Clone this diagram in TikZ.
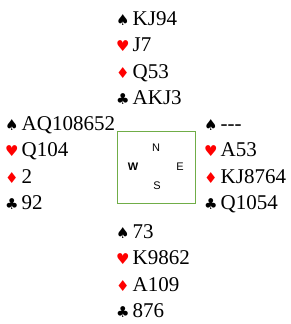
\documentclass[tikz,border=0pt]{standalone}
\usepackage{fontspec}
\setmainfont{Liberation Serif}
\newfontfamily\symfont{DejaVu Sans}
\newfontfamily\arialfont{Liberation Sans}
\definecolor{boxgreen}{RGB}{112,173,71}
\definecolor{suitred}{RGB}{255,0,0}
\newcommand{\suitbox}[1]{\makebox[16.5pt][l]{\symfont\fontsize{15}{15}\selectfont #1}}
\newcommand{\spd}{\suitbox{♠}}
\newcommand{\hrt}{\suitbox{\color{suitred}♥}}
\newcommand{\dmd}{\suitbox{\color{suitred}♦}}
\newcommand{\clb}{\suitbox{♣}}
\begin{document}
\begin{tikzpicture}[x=1pt,y=-1pt,
  hand/.style={anchor=base west,inner sep=0pt,font=\fontsize{21}{21}\selectfont},
  dir/.style={inner sep=0pt,font=\arialfont\fontsize{11}{11}\selectfont}]
\useasboundingbox (0,0) rectangle (291,324);
% North
\node[hand] (n1) at (116,25) {\spd KJ94};
\node[hand] (n2) at (116,51.5) {\hrt J7};
\node[hand] (n3) at (116,78) {\dmd Q53};
\node[hand] (n4) at (116,104.5) {\clb AKJ3};
% West
\node[hand] (w1) at (5,130) {\spd AQ108652};
\node[hand] (w2) at (5,156.5) {\hrt Q104};
\node[hand] (w3) at (5,183) {\dmd 2};
\node[hand] (w4) at (5,209.5) {\clb 92};
% East
\node[hand] (e1) at (204,130) {\spd {-}{-}{-}};
\node[hand] (e2) at (204,156.5) {\hrt A53};
\node[hand] (e3) at (204,183) {\dmd KJ8764};
\node[hand] (e4) at (204,209.5) {\clb Q1054};
% South
\node[hand] (s1) at (116,238) {\spd 73};
\node[hand] (s2) at (116,264.5) {\hrt K9862};
\node[hand] (s3) at (116,291) {\dmd A109};
\node[hand] (s4) at (116,317.5) {\clb 876};
% Compass box
\node[draw=boxgreen,line width=0.8pt,minimum width=78pt,minimum height=72pt,inner sep=0pt] (box) at (156,167) {};
\node[dir] (cn) at (156,148) {N};
\node[dir] (cw) at (133,167) {\bfseries W};
\node[dir] (ce) at (180,167) {E};
\node[dir] (cs) at (157,186) {S};
\end{tikzpicture}
\end{document}
